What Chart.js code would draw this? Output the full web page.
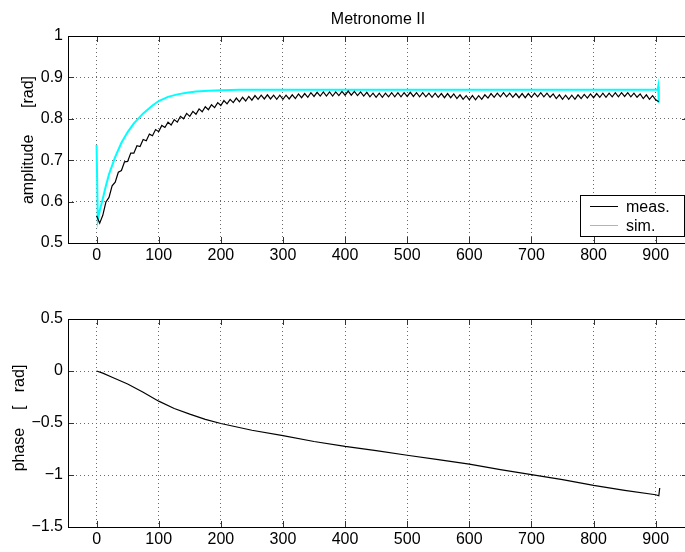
<!DOCTYPE html>
<html>
<head>
<meta charset="utf-8">
<script src="https://cdn.jsdelivr.net/npm/chart.js@4/dist/chart.umd.min.js"></script>
<style>
html, body { margin: 0; padding: 0; background: #fff; overflow: hidden; }
#wrap { width: 685px; height: 552px; overflow: hidden; }
canvas { display: block; }
</style>
</head>
<body>
<div id="wrap">
  <canvas id="ampChart" width="688" height="280"></canvas>
  <canvas id="phaseChart" width="688" height="272"></canvas>
</div>
<script>
// x-Achse (Zeit), gemeinsam fuer beide Plots
const xMin = -46, xMax = 952;
const xTicks = [0, 100, 200, 300, 400, 500, 600, 700, 800, 900];

// Amplitude: Messung, Abtastung alle 5 Zeiteinheiten ab 0
const measStep = 5;
const measAmp = [
  0.566, 0.548, 0.567, 0.599, 0.610, 0.638, 0.647, 0.671, 0.675, 0.696,
  0.697, 0.717, 0.717, 0.735, 0.733, 0.750, 0.747, 0.763, 0.759, 0.774,
  0.769, 0.784, 0.779, 0.792, 0.785, 0.798, 0.792, 0.806, 0.800, 0.813,
  0.806, 0.818, 0.811, 0.824, 0.817, 0.829, 0.822, 0.834, 0.827, 0.839,
  0.832, 0.844, 0.836, 0.847, 0.839, 0.850, 0.841, 0.852, 0.843, 0.854,
  0.845, 0.856, 0.847, 0.857, 0.848, 0.858, 0.848, 0.857, 0.847, 0.857,
  0.847, 0.857, 0.848, 0.858, 0.849, 0.860, 0.851, 0.861, 0.852, 0.863,
  0.854, 0.864, 0.855, 0.865, 0.855, 0.865, 0.855, 0.865, 0.856, 0.866,
  0.857, 0.867, 0.857, 0.866, 0.856, 0.865, 0.855, 0.864, 0.853, 0.862,
  0.852, 0.862, 0.852, 0.862, 0.853, 0.863, 0.853, 0.863, 0.853, 0.863,
  0.854, 0.864, 0.854, 0.863, 0.853, 0.863, 0.853, 0.862, 0.852, 0.862,
  0.852, 0.861, 0.851, 0.861, 0.851, 0.860, 0.849, 0.858, 0.847, 0.856,
  0.846, 0.856, 0.846, 0.856, 0.847, 0.858, 0.850, 0.861, 0.852, 0.862,
  0.853, 0.863, 0.853, 0.862, 0.852, 0.861, 0.851, 0.861, 0.851, 0.861,
  0.852, 0.862, 0.853, 0.863, 0.853, 0.862, 0.852, 0.860, 0.849, 0.858,
  0.847, 0.857, 0.847, 0.857, 0.847, 0.858, 0.849, 0.859, 0.850, 0.860,
  0.851, 0.861, 0.852, 0.862, 0.852, 0.862, 0.853, 0.863, 0.853, 0.863,
  0.854, 0.863, 0.853, 0.862, 0.852, 0.860, 0.849, 0.858, 0.847, 0.856,
  0.846, 0.841
];

// Amplitude: Simulation
const simX = [0, 2, 5, 10, 15, 20, 30, 40, 50, 60, 75, 90, 100, 115, 130, 145, 160, 180, 200, 230,
  260, 300, 400, 500, 600, 700, 800, 900, 903, 904, 905];
const simAmp = [0.737, 0.556, 0.578, 0.607, 0.638, 0.666, 0.708, 0.742, 0.768, 0.789, 0.813, 0.832,
  0.843, 0.853, 0.859, 0.863, 0.866, 0.868, 0.869, 0.870, 0.870, 0.870, 0.870, 0.870, 0.870, 0.870,
  0.870, 0.870, 0.870, 0.878, 0.839];
const ampTicks = [0.5, 0.6, 0.7, 0.8, 0.9, 1];

// Phase
const phaseX = [0, 10, 25, 50, 75, 100, 125, 150, 175, 200, 250, 300, 350, 400, 450, 500, 550, 600,
  650, 700, 750, 800, 850, 900, 905, 906.5];
const phaseVal = [0, -0.02, -0.06, -0.125, -0.205, -0.29, -0.36, -0.415, -0.465, -0.505, -0.57,
  -0.622, -0.678, -0.725, -0.765, -0.81, -0.852, -0.895, -0.948, -0.997, -1.045, -1.1, -1.148,
  -1.19, -1.2, -1.125];
const phaseTicks = [-1.5, -1, -0.5, 0, 0.5];

const FONT = "'Liberation Sans', Arial, Helvetica, sans-serif";
Chart.defaults.font.family = FONT;
Chart.defaults.font.size = 16;
Chart.defaults.color = '#000';

const pts = (xs, ys) => ys.map((y, i) => ({ x: xs[i], y: y }));
const fmt = v => String(v).replace('-', '\u2212');

// Rahmen + Ticks nach innen (Matlab-Stil), Titel, y-Beschriftung, Legende
const matlabLook = {
  id: 'matlabLook',
  afterDraw(chart, args, opts) {
    const { ctx, chartArea: a, scales } = chart;
    ctx.save();
    ctx.setLineDash([]);
    ctx.strokeStyle = '#333';
    ctx.lineWidth = 1;
    ctx.beginPath();
    scales.x.ticks.forEach(t => {
      const px = Math.round(scales.x.getPixelForValue(t.value)) + 0.5;
      ctx.moveTo(px, a.bottom); ctx.lineTo(px, a.bottom - 6);
      ctx.moveTo(px, a.top); ctx.lineTo(px, a.top + 6);
    });
    scales.y.ticks.forEach(t => {
      const py = Math.round(scales.y.getPixelForValue(t.value)) + 0.5;
      ctx.moveTo(a.left, py); ctx.lineTo(a.left + 6, py);
      ctx.moveTo(a.right, py); ctx.lineTo(a.right - 6, py);
    });
    ctx.stroke();

    ctx.strokeStyle = '#000';
    ctx.strokeRect(Math.round(a.left) + 0.5, Math.round(a.top) + 0.5,
      Math.round(a.right - a.left), Math.round(a.bottom - a.top));

    ctx.fillStyle = '#000';
    ctx.font = '16px ' + FONT;
    if (opts.title) {
      ctx.textAlign = 'center';
      ctx.textBaseline = 'alphabetic';
      ctx.fillText(opts.title, opts.titleX, opts.titleY);
    }
    if (opts.ylabel) {
      ctx.save();
      ctx.translate(opts.ylabelX, opts.ylabelY);
      ctx.rotate(-Math.PI / 2);
      ctx.textAlign = 'center';
      ctx.textBaseline = 'alphabetic';
      ctx.fillText(opts.ylabel, 0, 0);
      ctx.restore();
    }
    if (opts.legend) {
      const L = opts.legend;
      ctx.fillStyle = '#fff';
      ctx.fillRect(L.x, L.y, L.w, L.h);
      ctx.strokeStyle = '#000';
      ctx.strokeRect(L.x + 0.5, L.y + 0.5, L.w, L.h);
      chart.data.datasets.forEach((ds, i) => {
        const ly = L.y + 11.5 + i * 19;
        ctx.strokeStyle = ds.borderColor;
        ctx.lineWidth = 1;
        ctx.beginPath();
        ctx.moveTo(L.x + 10, ly); ctx.lineTo(L.x + 38, ly);
        ctx.stroke();
        ctx.fillStyle = '#000';
        ctx.textAlign = 'left';
        ctx.textBaseline = 'alphabetic';
        ctx.fillText(ds.label, L.x + 46, ly + 5.5);
      });
    }
    ctx.restore();
  }
};

function axes(yMin, yMax, yTicks, xAxisHeight) {
  const grid = { color: '#6a6a6a', lineWidth: 1, drawTicks: false };
  const border = { display: false, dash: [1, 3] };
  return {
    x: {
      type: 'linear', min: xMin, max: xMax,
      afterBuildTicks: s => { s.ticks = xTicks.map(v => ({ value: v })); },
      ticks: { padding: 3, maxRotation: 0, autoSkip: false, callback: fmt },
      grid: grid, border: border,
      afterFit: s => { s.height = xAxisHeight; }
    },
    y: {
      type: 'linear', min: yMin, max: yMax,
      afterBuildTicks: s => { s.ticks = yTicks.map(v => ({ value: v })); },
      ticks: { padding: 5, autoSkip: false, callback: fmt },
      grid: grid, border: border,
      afterFit: s => { s.width = 68; }
    }
  };
}

new Chart(document.getElementById('ampChart'), {
  type: 'line',
  data: {
    datasets: [
      {
        label: 'meas.',
        data: measAmp.map((y, i) => ({ x: i * measStep, y: y })),
        borderColor: '#000000', borderWidth: 1.2, pointRadius: 0, tension: 0
      },
      {
        label: 'sim.',
        data: pts(simX, simAmp),
        borderColor: '#00ffff', borderWidth: 2, pointRadius: 0, tension: 0
      }
    ]
  },
  options: {
    responsive: false, animation: false, parsing: true,
    layout: { padding: { top: 36, left: 0, right: 0, bottom: 0 } },
    scales: axes(0.5, 1, ampTicks, 37),
    plugins: {
      legend: { display: false }, tooltip: { enabled: false },
      matlabLook: {
        title: 'Metronome II', titleX: 378, titleY: 23.5,
        ylabel: 'amplitude      [rad]', ylabelX: 32.5, ylabelY: 140,
        legend: { x: 580, y: 195, w: 104, h: 41 }
      }
    }
  },
  plugins: [matlabLook]
});

new Chart(document.getElementById('phaseChart'), {
  type: 'line',
  data: {
    datasets: [{
      label: 'phase',
      data: pts(phaseX, phaseVal),
      borderColor: '#000000', borderWidth: 1.2, pointRadius: 0, tension: 0
    }]
  },
  options: {
    responsive: false, animation: false,
    layout: { padding: { top: 39, left: 0, right: 0, bottom: 0 } },
    scales: axes(-1.5, 0.5, phaseTicks, 25),
    plugins: {
      legend: { display: false }, tooltip: { enabled: false },
      matlabLook: {
        ylabel: 'phase    [   rad]', ylabelX: 23.5, ylabelY: 138
      }
    }
  },
  plugins: [matlabLook]
});
</script>
</body>
</html>
